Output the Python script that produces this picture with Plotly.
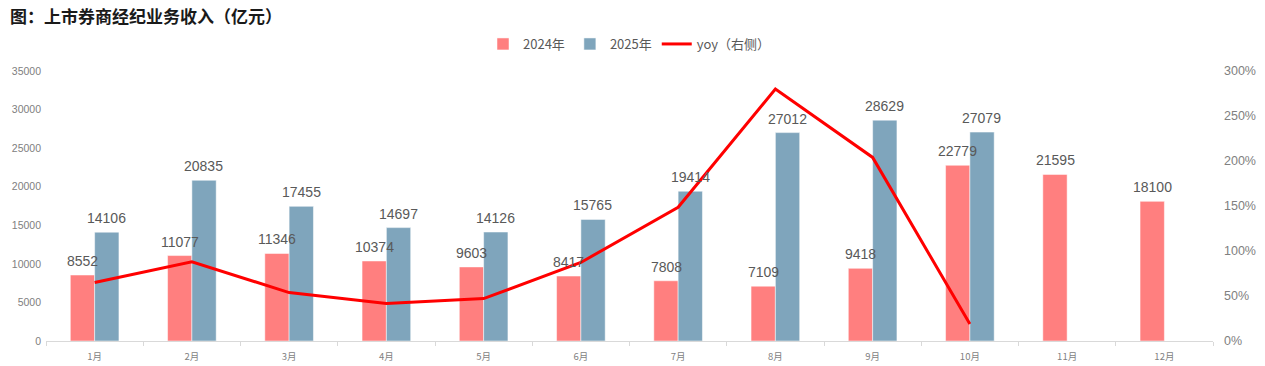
import plotly.graph_objects as go

months = ["1月", "2月", "3月", "4月", "5月", "6月", "7月", "8月", "9月", "10月", "11月", "12月"]
rev_2024 = [8552, 11077, 11346, 10374, 9603, 8417, 7808, 7109, 9418, 22779, 21595, 18100]
rev_2025 = [14106, 20835, 17455, 14697, 14126, 15765, 19414, 27012, 28629, 27079, None, None]
yoy_pct = [64.9, 88.1, 53.8, 41.7, 47.1, 87.3, 148.6, 280.0, 204.0, 18.9]

num_font = "Liberation Sans, Arial, sans-serif"
cjk = "Noto Sans CJK SC, Liberation Sans, sans-serif"
label_font = dict(family=num_font, size=14, color="#595959")

fig = go.Figure()
fig.add_trace(go.Bar(
    name="2024年", x=months, y=rev_2024,
    marker=dict(color="#FF7F7F", line=dict(color="#FFFFFF", width=0.5)),
))
fig.add_trace(go.Bar(
    name="2025年", x=months, y=rev_2025,
    marker=dict(color="#7FA5BC", line=dict(color="#FFFFFF", width=0.5)),
))
fig.add_trace(go.Scatter(
    name="yoy（右侧）", x=months[:len(yoy_pct)], y=[v / 100 for v in yoy_pct],
    mode="lines", line=dict(color="#FF0000", width=3), yaxis="y2",
))

# data labels above bars
for m, v in zip(months, rev_2024):
    fig.add_annotation(x=m, y=v, xref="x", yref="y", text=str(v), showarrow=False,
                       xshift=-12, yshift=4, yanchor="bottom", font=label_font)
for m, v in zip(months, rev_2025):
    if v is None:
        continue
    fig.add_annotation(x=m, y=v, xref="x", yref="y", text=str(v), showarrow=False,
                       xshift=12, yshift=4, yanchor="bottom", font=label_font)

fig.update_layout(
    width=1265, height=366,
    margin=dict(l=46, r=52, t=71, b=25),
    paper_bgcolor="white", plot_bgcolor="white",
    barmode="group", bargap=0.5, bargroupgap=0,
    title=dict(text="<b>图：上市券商经纪业务收入（亿元）</b>", x=10 / 1265, xref="container", xanchor="left",
               y=1 - 17 / 366, yref="container", yanchor="middle",
               font=dict(family=cjk, size=17, color="#1a1a1a")),
    legend=dict(orientation="h", x=0.5, xanchor="center", y=1.1, yanchor="middle",
                font=dict(family=cjk, size=13, color="#595959"), itemwidth=30,
                bgcolor="rgba(0,0,0,0)"),
    xaxis=dict(showline=True, linecolor="#d9d9d9", linewidth=1, ticks="outside", tickson="boundaries",
               ticklen=4, tickcolor="#d9d9d9", showgrid=False, automargin=False,
               ticklabelstandoff=7,
               tickfont=dict(family=cjk, size=9.5, color="#7f7f7f")),
    yaxis=dict(range=[0, 35000], dtick=5000, tickformat="d", showgrid=False, zeroline=False, showline=False,
               automargin=False,
               tickfont=dict(family=num_font, size=10.5, color="#808080"),
               ticklabelstandoff=4),
    yaxis2=dict(overlaying="y", side="right", range=[0, 3], dtick=0.5, tickformat=".0%",
                showgrid=False, zeroline=False, showline=False, automargin=False,
                tickfont=dict(family=num_font, size=12.5, color="#808080"),
                ticklabelstandoff=10),
)

fig.write_html("out.html", config={"displayModeBar": False},
               post_script="document.body.style.margin='0';document.body.style.overflow='hidden';")
